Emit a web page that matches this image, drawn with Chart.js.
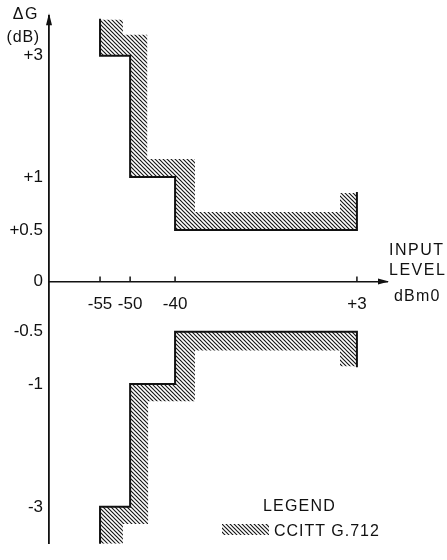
<!DOCTYPE html>
<html lang="en">
<head>
  <meta charset="UTF-8">
  <title>Gain tracking – CCITT G.712</title>
  <script src="https://cdn.jsdelivr.net/npm/chart.js"></script>
  <style>
    body {
      margin: 0;
      background: #fff;
    }

    .wrap {
      position: relative;
      width: 447px;
      height: 560px;
      font-family: "Liberation Sans", Arial, sans-serif;
      color: #111;
    }

    .lbl {
      position: absolute;
      font-size: 16px;
      line-height: 16px;
      white-space: nowrap;
    }

    .swatch {
      position: absolute;
      left: 222px;
      top: 524px;
      width: 47px;
      height: 11px;
    }
  </style>
</head>
<body>

  <div class="wrap">
    <canvas id="chart"></canvas>

    <!-- axis titles -->
    <div class="lbl" style="right:408px; top:6px; letter-spacing:1.5px;">ΔG</div>
    <div class="lbl" style="right:407px; top:29px; letter-spacing:0.8px;">(dB)</div>
    <div class="lbl" style="left:389px; top:242px; letter-spacing:1.5px;">INPUT</div>
    <div class="lbl" style="left:389px; top:262px; letter-spacing:1.5px;">LEVEL</div>
    <div class="lbl" style="left:394px; top:288px; letter-spacing:1.2px;">dBm0</div>

    <!-- legend -->
    <div class="lbl" style="left:263px; top:498px; letter-spacing:1.2px;">LEGEND</div>
    <div class="swatch" id="swatch"></div>
    <div class="lbl" style="left:274px; top:523px; letter-spacing:1px;">CCITT G.712</div>
  </div>

  <script>
    // tick values / labels
    const xTickValues = [-55, -50, -40, 3];
    const xTickLabels = ['-55', '-50', '-40', '+3'];
    const yTickValues = [-3, -1, -0.5, 0, 0.5, 1, 3];
    const yTickLabels = ['-3', '-1', '-0.5', '0', '+0.5', '+1', '+3'];

    // G.712 mask, upper limit (solid line) and outer edge of its hatching
    const upperLimitX = [-55, -55, -50, -50, -40, -40, 3, 3];
    const upperLimitY = [3.6, 3, 3, 1, 1, 0.5, 0.5, 0.85];
    const upperHatchX = [-55, -51.2, -51.2, -46.2, -46.2, -35.3, -35.3, -1, -1, 3];
    const upperHatchY = [3.6, 3.6, 3.35, 3.35, 1.3, 1.3, 0.67, 0.67, 0.85, 0.85];

    // lower limit
    const lowerLimitX = [-55, -55, -50, -50, -40, -40, 3, 3];
    const lowerLimitY = [-3.6, -3, -3, -1, -1, -0.5, -0.5, -0.83];
    const lowerHatchX = [-55, -51.2, -51.2, -46, -46, -35.3, -35.3, -1, -1, 3];
    const lowerHatchY = [-3.6, -3.6, -3.28, -3.28, -1.28, -1.28, -0.68, -0.68, -0.83, -0.83];

    // the drawing is not to scale, so each axis is stretched piece by piece
    // (value breaks -> fraction of the axis length)
    const xBreaks = [-65, -55, -50, -40, 3, 8];
    const xStops = [0, 0.151, 0.240, 0.373, 0.911, 1];
    const yBreaks = [-3.6, -3, -1, -0.5, 0, 0.5, 1, 3, 3.66];
    const yStops = [0, 0.070, 0.303, 0.402, 0.497, 0.595, 0.695, 0.925, 1];
    const PIECES = { x: [xBreaks, xStops], y: [yBreaks, yStops] };

    function lerpTable(v, from, to) {
      let i = 1;
      while (i < from.length - 1 && v > from[i]) i++;
      const t = (v - from[i - 1]) / (from[i] - from[i - 1]);
      return to[i - 1] + t * (to[i] - to[i - 1]);
    }

    class PiecewiseScale extends Chart.LinearScale {
      getPixelForValue(value) {
        if (value === null || isNaN(value)) return NaN;
        const [b, s] = PIECES[this.id];
        return this.getPixelForDecimal(lerpTable(value, b, s));
      }
      getValueForPixel(pixel) {
        const [b, s] = PIECES[this.id];
        return lerpTable(this.getDecimalForPixel(pixel), s, b);
      }
    }
    PiecewiseScale.id = 'piecewise';
    PiecewiseScale.defaults = Chart.LinearScale.defaults;
    Chart.register(PiecewiseScale);

    // diagonal hatching
    function makeHatchTile() {
      const s = 4;
      const c = document.createElement('canvas');
      c.width = s;
      c.height = s;
      const g = c.getContext('2d');
      g.strokeStyle = '#151515';
      g.lineWidth = 1.15;
      for (const o of [-s, 0, s]) {
        g.beginPath();
        g.moveTo(o - 1, -1);
        g.lineTo(o + s + 1, s + 1);
        g.stroke();
      }
      return c;
    }
    const tile = makeHatchTile();
    const hatch = tile.getContext('2d').createPattern(tile, 'repeat');
    document.getElementById('swatch').style.backgroundImage = 'url(' + tile.toDataURL() + ')';

    function toPoints(xs, ys) {
      return xs.map((x, i) => ({ x: x, y: ys[i] }));
    }
    // closed outline: hatch edge out, limit line back
    function band(ex, ey, lx, ly) {
      return toPoints(ex, ey).concat(toPoints(lx, ly).reverse());
    }

    const axisArrows = {
      id: 'axisArrows',
      afterDraw(chart) {
        const { ctx, scales: { x, y } } = chart;
        const y0 = y.getPixelForValue(0);
        const left = x.left;
        ctx.save();
        ctx.fillStyle = '#111';
        ctx.strokeStyle = '#111';
        ctx.beginPath();
        ctx.moveTo(left, y.top - 3);
        ctx.lineTo(left - 3, y.top + 9);
        ctx.lineTo(left + 3, y.top + 9);
        ctx.closePath();
        ctx.fill();
        ctx.beginPath();
        ctx.moveTo(x.right + 2, y0);
        ctx.lineTo(x.right - 9, y0 - 3);
        ctx.lineTo(x.right - 9, y0 + 3);
        ctx.closePath();
        ctx.fill();
        // small tick marks above the axis
        ctx.lineWidth = 1.5;
        x.ticks.forEach((t, i) => {
          const px = x.getPixelForTick(i);
          ctx.beginPath();
          ctx.moveTo(px, y0);
          ctx.lineTo(px, y0 - 5);
          ctx.stroke();
        });
        ctx.restore();
      }
    };

    const tickFont = { family: '"Liberation Sans", Arial, sans-serif', size: 17 };

    new Chart(document.getElementById('chart'), {
      type: 'line',
      data: {
        datasets: [
          { label: 'upper limit', data: toPoints(upperLimitX, upperLimitY), borderColor: '#111', borderWidth: 2, fill: false },
          { label: 'lower limit', data: toPoints(lowerLimitX, lowerLimitY), borderColor: '#111', borderWidth: 2, fill: false },
          { label: 'CCITT G.712', data: band(upperHatchX, upperHatchY, upperLimitX, upperLimitY), borderColor: 'rgba(0,0,0,0)', backgroundColor: hatch, fill: 'shape' },
          { label: 'CCITT G.712 ', data: band(lowerHatchX, lowerHatchY, lowerLimitX, lowerLimitY), borderColor: 'rgba(0,0,0,0)', backgroundColor: hatch, fill: 'shape' }
        ]
      },
      options: {
        responsive: true,
        maintainAspectRatio: false,
        animation: false,
        events: [],
        layout: { padding: { top: 15, right: 60, bottom: 0, left: 0 } },
        elements: {
          point: { radius: 0 },
          line: { tension: 0, borderJoinStyle: 'miter', borderCapStyle: 'square' }
        },
        plugins: {
          legend: { display: false },
          tooltip: { enabled: false }
        },
        scales: {
          x: {
            type: 'piecewise',
            min: -65,
            max: 8,
            position: { y: 0 },
            grid: { display: false, drawTicks: false },
            border: { color: '#111', width: 1.6 },
            afterBuildTicks: s => { s.ticks = xTickValues.map(v => ({ value: v })); },
            ticks: {
              autoSkip: false,
              maxRotation: 0,
              padding: 13,
              color: '#111',
              font: tickFont,
              callback: (v, i) => xTickLabels[i]
            }
          },
          y: {
            type: 'piecewise',
            min: -3.6,
            max: 3.66,
            position: 'left',
            afterFit: s => { s.width = 49; },
            grid: { display: false, drawTicks: false },
            border: { color: '#111', width: 1.8 },
            afterBuildTicks: s => { s.ticks = yTickValues.map(v => ({ value: v })); },
            ticks: {
              autoSkip: false,
              padding: 6,
              color: '#111',
              font: tickFont,
              callback: (v, i) => yTickLabels[i]
            }
          }
        }
      },
      plugins: [axisArrows]
    });
  </script>

</body>
</html>
